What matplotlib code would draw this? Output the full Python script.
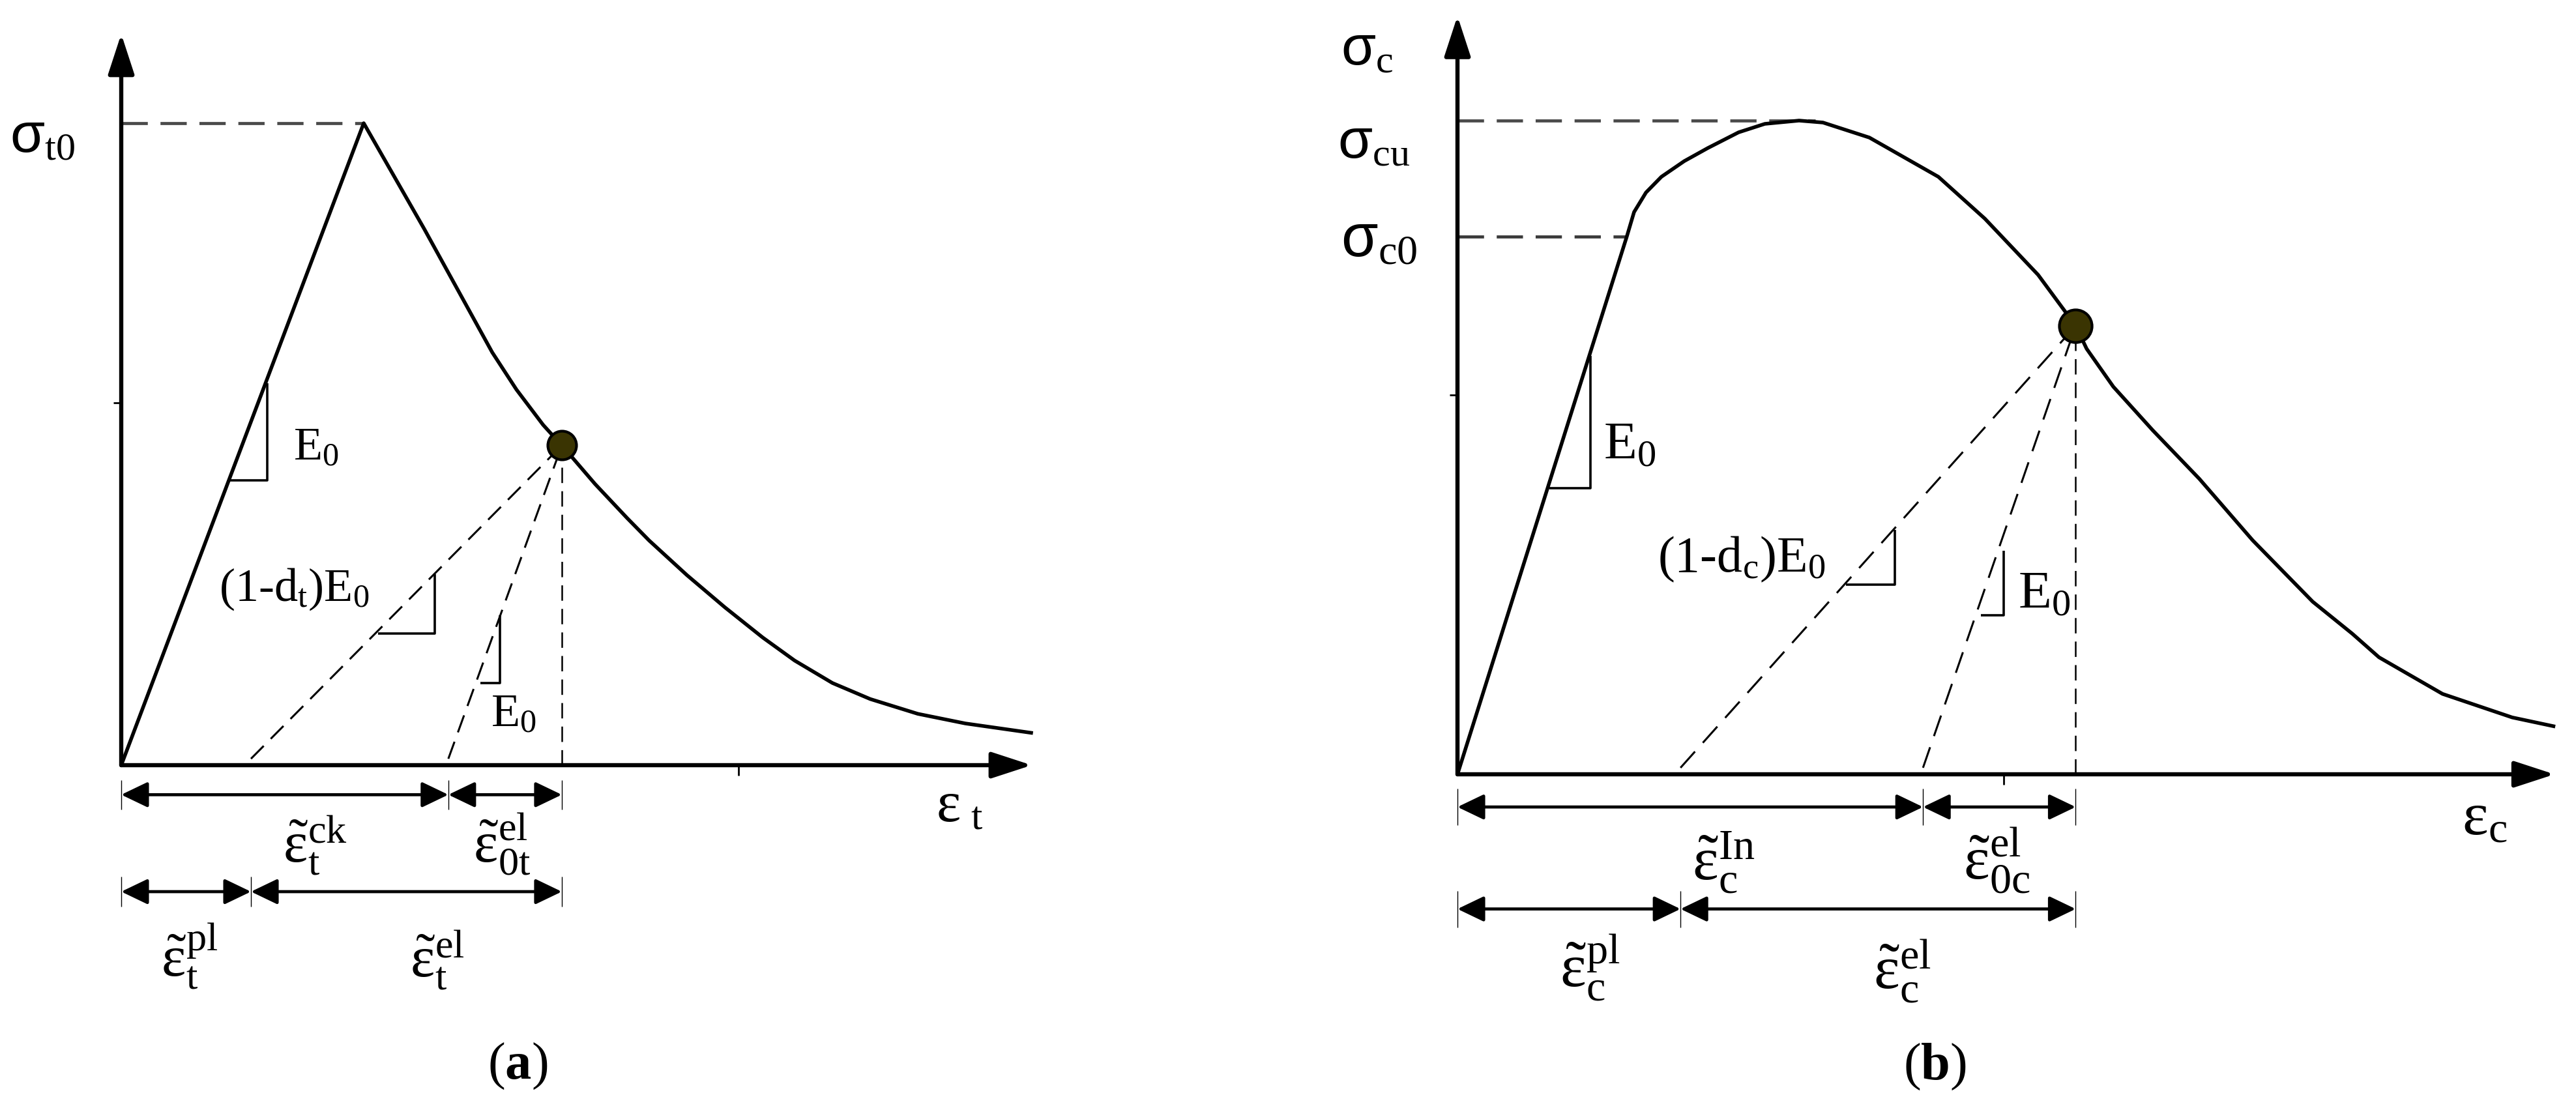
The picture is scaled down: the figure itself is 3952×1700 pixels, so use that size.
import matplotlib
matplotlib.use("Agg")
import matplotlib.pyplot as plt

# figure size (pixels)
W, H, DPI = 3952, 1700, 100

plt.rcParams["font.family"] = "Liberation Serif"
plt.rcParams["mathtext.fontset"] = "custom"
plt.rcParams["mathtext.rm"] = "Liberation Serif"
plt.rcParams["mathtext.it"] = "Liberation Serif:italic"
plt.rcParams["mathtext.bf"] = "Liberation Serif:bold"
plt.rcParams["mathtext.sf"] = "Liberation Sans"
plt.rcParams["lines.scale_dashes"] = False

# ---- (a) tension, stress/strain normalised to the peak ----
strain_t = [0, 1.0, 1.25, 1.53, 1.63, 1.74, 1.817, 1.863, 1.954, 2.086, 2.177,
            2.333, 2.489, 2.645, 2.777, 2.933, 3.089, 3.285, 3.481, 3.760]
stress_t = [0, 1.0, 0.835, 0.643, 0.585, 0.530, 0.498, 0.478, 0.438, 0.385,
            0.350, 0.296, 0.246, 0.199, 0.163, 0.128, 0.103, 0.080, 0.065, 0.050]
peak_t = (1.0, 1.0)
dot_t = (1.817, 0.498)
feet_t = [0.535, 1.349]          # unloading lines hit the strain axis here
axis_end_t = (3.755, 1.139)
ytick_t = 0.564
xtick_t = 2.546
# slope triangles: x left, x right, y bottom, y top
tri_t = [(0.446, 0.602, 0.444, 0.595),
         (1.059, 1.293, 0.205, 0.297),
         (1.481, 1.562, 0.128, 0.233)]

# ---- (b) compression ----
strain_c = [0, 0.496, 0.517, 0.552, 0.597, 0.664, 0.733, 0.823, 0.900, 1.0,
            1.070, 1.206, 1.408, 1.544, 1.700, 1.810, 1.842, 1.920, 2.036,
            2.172, 2.328, 2.504, 2.620, 2.698, 2.884, 3.088, 3.214]
stress_c = [0, 0.823, 0.860, 0.890, 0.914, 0.938, 0.958, 0.982, 0.995, 1.0,
            0.997, 0.974, 0.914, 0.850, 0.764, 0.686, 0.651, 0.593, 0.526,
            0.452, 0.358, 0.264, 0.215, 0.179, 0.123, 0.087, 0.073]
peak_c = (1.048, 1.0)
yield_c = (0.496, 0.823)
dot_c = (1.810, 0.686)
feet_c = [0.653, 1.363]
axis_end_c = (3.212, 1.16)
ytick_c = 0.580
xtick_c = 1.599
tri_c = [(0.270, 0.389, 0.438, 0.640),
         (1.137, 1.281, 0.290, 0.374),
         (1.532, 1.599, 0.243, 0.342)]

EPS = r"\tilde{\mathrm{\varepsilon}}"


def line(ax, xs, ys, **kw):
    kw.setdefault("color", "black")
    ax.plot(xs, ys, clip_on=False, solid_capstyle="butt", **kw)


def arrow(ax, x0, y0, x1, y1, style, lw, ms=20):
    ax.annotate("", xy=(x1, y1), xytext=(x0, y0), annotation_clip=False,
                arrowprops=dict(arrowstyle=style, lw=lw, color="black",
                                shrinkA=0, shrinkB=0, mutation_scale=ms))


def dimension(ax, y, xs, half):
    """double arrows between consecutive xs, with thin end marks"""
    for x in xs:
        line(ax, [x, x], [y - half, y + half], lw=1.0)
    for x0, x1 in zip(xs[:-1], xs[1:]):
        arrow(ax, x0, y, x1, y, "<|-|>,head_length=1.25,head_width=0.6", 3.4)


def panel(ax, strain, stress, dot, feet, axis_end, ytick, xtick, tris,
          ytick_len, dash_diag, dims, ext_half, dot_size):
    ax.set_axis_off()
    # axes with arrow heads
    arrow(ax, 0, 0, axis_end[0], 0, "-|>,head_length=1.9,head_width=0.62", 4.6)
    arrow(ax, 0, 0, 0, axis_end[1], "-|>,head_length=1.9,head_width=0.62", 4.6)
    line(ax, [-ytick_len, 0], [ytick, ytick], lw=2)
    line(ax, [xtick, xtick], [0, -0.016], lw=2)
    # curve
    line(ax, strain, stress, lw=4.0, solid_joinstyle="round")
    # unloading lines
    for f in feet:
        line(ax, [f, dot[0]], [0.01, dot[1]], lw=2.2, linestyle=dash_diag)
    line(ax, [dot[0], dot[0]], [0, dot[1]], lw=1.8, linestyle=(0, (17, 9)))
    # slope triangles
    for xl, xr, yb, yt in tris:
        line(ax, [xl, xr, xr], [yb, yb, yt], lw=2.6)
    # dimension lines
    for y, xs in dims:
        dimension(ax, y, xs, ext_half)
    ax.scatter([dot[0]], [dot[1]], s=dot_size, color="#3a3402",
               edgecolors="black", linewidths=3, zorder=10, clip_on=False)


def make_axes(fig, origin, scale, lims):
    ox, oy = origin
    sx, sy = scale
    ax = fig.add_axes([ox / W, (H - oy) / H, lims[0] * sx / W, lims[1] * sy / H])
    ax.set_xlim(0, lims[0])
    ax.set_ylim(0, lims[1])
    return ax


fig = plt.figure(figsize=(W / DPI, H / DPI), dpi=DPI)

# ---------------- panel (a) ----------------
ax = make_axes(fig, (186, 1174), (372, 985), (4.0, 1.18))
line(ax, [0, peak_t[0]], [peak_t[1], peak_t[1]], lw=3.4, color="#4a4a4a",
     linestyle=(0, (29, 14)))
panel(ax, strain_t, stress_t, dot_t, feet_t, axis_end_t, ytick_t, xtick_t,
      tri_t, 0.032, (0, (20, 11)),
      [(-0.046, [0, feet_t[1], dot_t[0]]), (-0.197, [0, feet_t[0], dot_t[0]])],
      0.023, 1000)

tkw = dict(ha="left", va="baseline")
ax.text(-0.460, 0.956, r"$\mathsf{\sigma}_{\mathrm{t0}}$", fontsize=62, **tkw)
ax.text(0.710, 0.476, r"E$_{\mathrm{0}}$", fontsize=52, **tkw)
ax.text(0.403, 0.256, r"(1-d$_{\mathrm{t}}$)E$_{\mathrm{0}}$", fontsize=52, **tkw)
ax.text(1.524, 0.060, r"E$_{\mathrm{0}}$", fontsize=52, **tkw)
ax.text(0.667, -0.150, rf"${EPS}_{{\mathrm{{t}}}}^{{\mathrm{{ck}}}}$", fontsize=64, **tkw)
ax.text(1.452, -0.150, rf"${EPS}_{{\mathrm{{0t}}}}^{{\mathrm{{el}}}}$", fontsize=64, **tkw)
ax.text(0.164, -0.329, rf"${EPS}_{{\mathrm{{t}}}}^{{\mathrm{{pl}}}}$", fontsize=64, **tkw)
ax.text(1.191, -0.329, rf"${EPS}_{{\mathrm{{t}}}}^{{\mathrm{{el}}}}$", fontsize=64, **tkw)
ax.text(3.360, -0.088, r"$\mathrm{\varepsilon}_{\ \mathrm{t}}$", fontsize=64, **tkw)
ax.text(1.634, -0.469, r"($\mathbf{a}$)", fontsize=58, ha="center", va="center")

# ---------------- panel (b) ----------------
ax = make_axes(fig, (2236, 1188), (524, 1003), (3.3, 1.18))
line(ax, [0, peak_c[0]], [peak_c[1], peak_c[1]], lw=3.4, color="#4a4a4a",
     linestyle=(0, (29, 14)))
line(ax, [0, yield_c[0]], [yield_c[1], yield_c[1]], lw=3.4, color="#3a3a3a",
     linestyle=(0, (29, 14)))
panel(ax, strain_c, stress_c, dot_c, feet_c, axis_end_c, ytick_c, xtick_c,
      tri_c, 0.023, (0, (24, 13)),
      [(-0.050, [0, feet_c[1], dot_c[0]]), (-0.206, [0, feet_c[0], dot_c[0]])],
      0.028, 1300)

ax.text(-0.342, 1.085, r"$\mathsf{\sigma}_{\mathrm{c}}$", fontsize=62, **tkw)
ax.text(-0.351, 0.943, r"$\mathsf{\sigma}_{\mathrm{cu}}$", fontsize=62, **tkw)
ax.text(-0.342, 0.793, r"$\mathsf{\sigma}_{\mathrm{c0}}$", fontsize=66, **tkw)
ax.text(0.427, 0.482, r"E$_{\mathrm{0}}$", fontsize=60, **tkw)
ax.text(0.586, 0.310, r"(1-d$_{\mathrm{c}}$)E$_{\mathrm{0}}$", fontsize=56, **tkw)
ax.text(1.641, 0.254, r"E$_{\mathrm{0}}$", fontsize=60, **tkw)
ax.text(0.687, -0.161, rf"${EPS}_{{\mathrm{{c}}}}^{{\mathrm{{In}}}}$", fontsize=68, **tkw)
ax.text(1.481, -0.161, rf"${EPS}_{{\mathrm{{0c}}}}^{{\mathrm{{el}}}}$", fontsize=68, **tkw)
ax.text(0.300, -0.325, rf"${EPS}_{{\mathrm{{c}}}}^{{\mathrm{{pl}}}}$", fontsize=68, **tkw)
ax.text(1.218, -0.328, rf"${EPS}_{{\mathrm{{c}}}}^{{\mathrm{{el}}}}$", fontsize=68, **tkw)
ax.text(2.941, -0.092, r"$\mathrm{\varepsilon}_{\mathrm{c}}$", fontsize=68, **tkw)
ax.text(1.397, -0.447, r"($\mathbf{b}$)", fontsize=58, ha="center", va="center")

fig.savefig("out.png", dpi=DPI, facecolor="white")
